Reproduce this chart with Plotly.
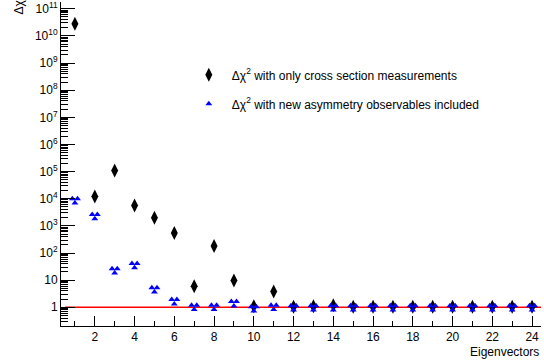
import numpy as np
import plotly.graph_objects as go

eigenvectors = list(range(1, 25))
dchi2_xsec = [2.8e10, 1.2e4, 1.1e5, 5.6e3, 2.0e3, 5.5e2, 6.0, 1.8e2, 9.7, 1.1, 3.8, 1.05,
              1.1, 1.2, 1.05, 1.05, 1.05, 1.05, 1.05, 1.05, 1.05, 1.05, 1.05, 1.05]
dchi2_asym = [8.4e3, 2.2e3, 22, 34, 4.4, 1.6, 1.0, 1.0, 1.35, 0.88, 1.0, 0.95,
              0.95, 0.95, 0.95, 0.95, 0.95, 0.95, 0.95, 0.95, 0.95, 0.95, 0.95, 0.95]
ytick_vals = [10 ** k for k in range(0, 12)]
ytick_text = ["1", "10"] + [f"10<sup>{k}</sup>" for k in range(2, 12)]
xtick_vals = list(range(2, 25, 2))

FONT = "Liberation Sans, Arial, sans-serif"
BLUE = "#0000ff"

x = np.array(eigenvectors, dtype=float)
ya = np.array(dchi2_asym, dtype=float)

fig = go.Figure()
fig.add_trace(go.Scatter(
    x=eigenvectors, y=dchi2_xsec, mode="markers",
    marker=dict(symbol="diamond-tall", size=10, color="black"),
    name="\u0394\u03c7<sup>2</sup> with only cross section measurements",
    legendgroup="a"))
# triple-triangle marker (ROOT style) built from three small triangles
dx, fy = 0.13, 1.2
fig.add_trace(go.Scatter(
    x=x, y=ya / fy, mode="markers",
    marker=dict(symbol="triangle-up", size=6, color=BLUE),
    name="\u0394\u03c7<sup>2</sup> with new asymmetry observables included",
    legendgroup="b"))
fig.add_trace(go.Scatter(
    x=x - dx, y=ya * fy, mode="markers",
    marker=dict(symbol="triangle-up", size=6, color=BLUE),
    showlegend=False, legendgroup="b"))
fig.add_trace(go.Scatter(
    x=x + dx, y=ya * fy, mode="markers",
    marker=dict(symbol="triangle-up", size=6, color=BLUE),
    showlegend=False, legendgroup="b"))

fig.add_shape(type="line", xref="x", yref="y", x0=0.5, x1=24.5, y0=1, y1=1,
              line=dict(color="red", width=1.5), layer="below")

minor_y = [m * 10 ** k for k in range(-1, 12) for m in range(2, 10)]

fig.update_xaxes(
    range=[0.3, 24.45], showgrid=False, zeroline=False,
    showline=True, linecolor="black", linewidth=1,
    ticks="inside", ticklen=10, tickcolor="black",
    tickvals=xtick_vals, tickfont=dict(family=FONT, size=12, color="black"),
    minor=dict(ticks="inside", ticklen=5, tickcolor="black", dtick=1, tick0=1),
)
fig.update_yaxes(
    type="log", range=[-0.69, 11.25], showgrid=False, zeroline=False,
    showline=True, linecolor="black", linewidth=1,
    ticks="inside", ticklen=14, tickcolor="black",
    tickvals=ytick_vals, ticktext=ytick_text, ticklabeloverflow="allow",
    tickfont=dict(family=FONT, size=12, color="black"),
    minor=dict(ticks="inside", ticklen=7, tickcolor="black", tickvals=minor_y),
)

fig.add_annotation(text="Eigenvectors", xref="paper", yref="paper", x=1, y=0,
                   xanchor="right", yanchor="top", yshift=-17, showarrow=False,
                   font=dict(family=FONT, size=12, color="black"))
fig.add_annotation(text="\u0394\u03c7<sup>2</sup>", xref="paper", yref="paper",
                   x=0, y=1, xshift=-44, yshift=8, xanchor="center", yanchor="top",
                   textangle=-90, showarrow=False,
                   font=dict(family=FONT, size=12, color="black"))

fig.update_layout(
    width=544, height=364,
    margin=dict(l=61, r=3, t=0, b=38),
    plot_bgcolor="white", paper_bgcolor="white",
    font=dict(family=FONT, size=12, color="black"),
    legend=dict(x=0.26, y=0.82, xanchor="left", yanchor="top",
                bgcolor="rgba(0,0,0,0)", tracegroupgap=10, itemwidth=36,
                font=dict(family=FONT, size=12, color="black")),
)

fig.write_html("out.html")
